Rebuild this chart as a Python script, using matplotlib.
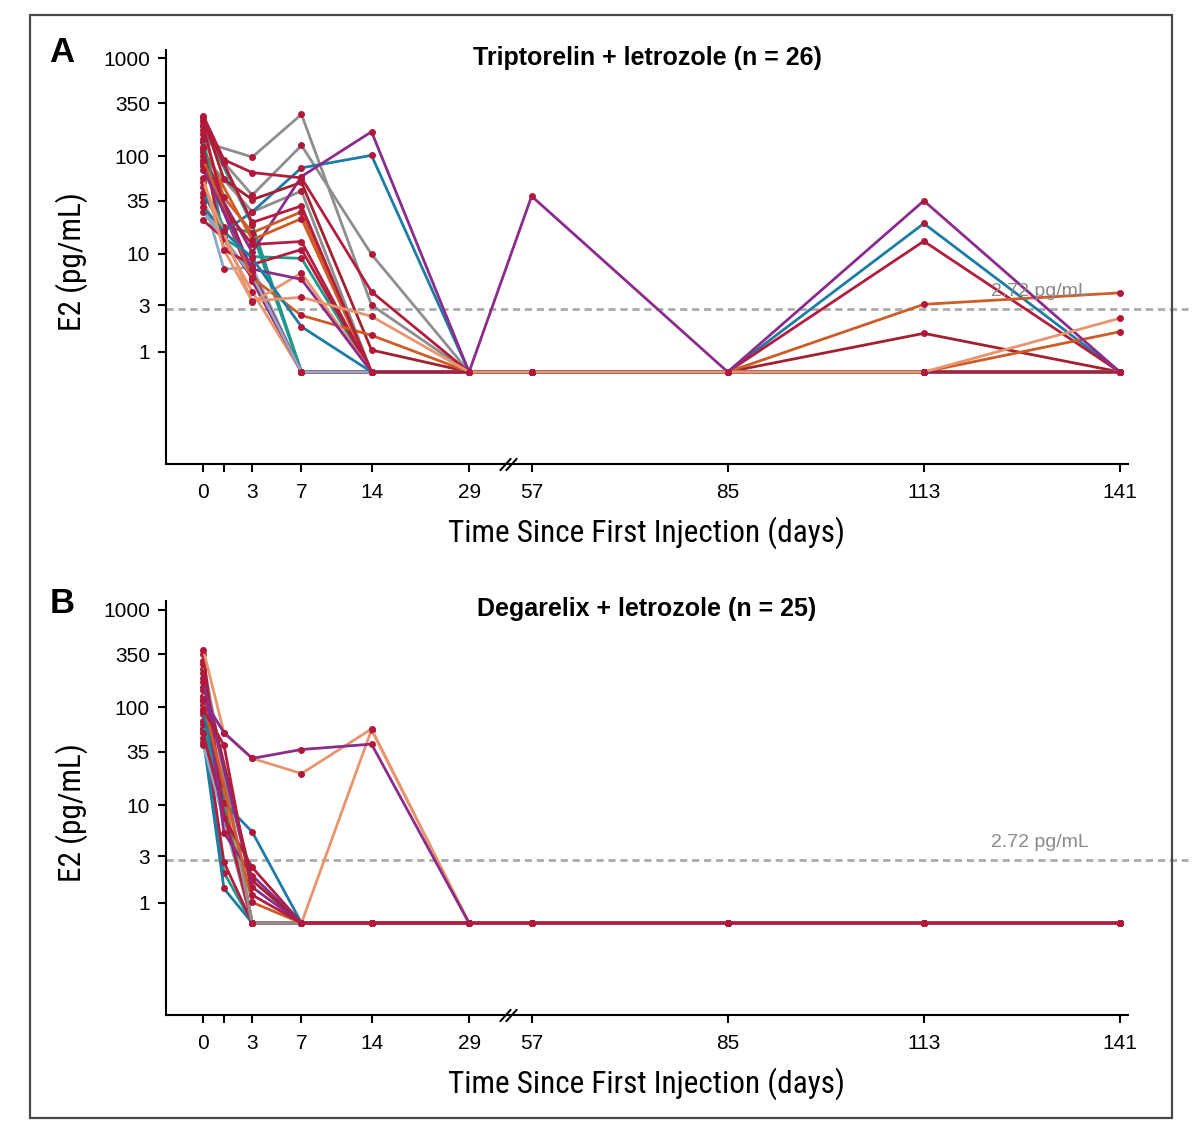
import numpy as np
import matplotlib
matplotlib.use('Agg')
import matplotlib.pyplot as plt
from matplotlib import font_manager
from matplotlib.patches import Rectangle
from matplotlib.ticker import NullLocator, FixedLocator, FixedFormatter

nan = np.nan
blq = 0.62  # samples below the limit are drawn at this level

days = [0, 1, 3, 7, 14, 29, 57, 85, 113, 141]
day_labels = ['0', '', '3', '7', '14', '29', '57', '85', '113', '141']
e2_ticks = [1, 3, 10, 35, 100, 350, 1000]
e2_labels = ['1', '3', '10', '35', '100', '350', '1000']
lloq = 2.72

F = blq
# Triptorelin + letrozole, one row per patient: d0 d1 d3 d7 d14 d29 d57 d85 d113 d141
trip_e2 = [
    [38, 7, 7.3, F, F, F, F, F, F, F],
    [85, nan, 5.3, F, F, F, F, F, F, F],
    [205, nan, 20, F, F, F, F, F, F, F],
    [48, 19, 16.5, F, F, F, F, F, F, F],
    [34, nan, 4.1, F, F, F, F, F, F, F],
    [22, 14.5, 5.7, F, F, F, F, F, F, F],
    [110, nan, 6.5, F, F, F, F, F, F, F],
    [27, nan, 6.0, F, F, F, F, F, F, F],
    [185, 86, 40, 129, 9.9, F, F, F, F, F],
    [140, nan, 98, 268, 3.0, F, F, F, F, F],
    [100, nan, 27, 44, F, F, F, F, F, F],
    [42, 17, 27, 76, 102, F, F, F, 20.5, F],
    [80, nan, 10.4, 62, 178, F, 39, F, F, F],
    [260, 92, 68, 60, 4.1, F, F, F, 13.5, F],
    [245, 58, 36, 54, 1.04, F, F, F, 1.54, F],
    [170, 38, 16.5, 27, F, F, F, F, 3.05, 4.0],
    [118, nan, 14, 23, F, F, F, F, F, 1.6],
    [210, 29, 12.5, 13.4, F, F, F, F, F, F],
    [150, 14.5, 9.4, 9.0, F, F, F, F, F, F],
    [125, 11, 7.8, 11.1, F, F, F, F, F, F],
    [92, nan, 5.7, 2.35, 1.47, F, F, F, F, F],
    [54, nan, 3.2, 6.4, F, F, F, F, F, F],
    [72, nan, 7.0, 5.5, F, F, F, F, 35, F],
    [30, 17, 9.0, 1.8, F, F, F, F, F, F],
    [228, nan, 21, 31, F, F, F, F, F, F],
    [60, 11, 3.3, 3.6, 2.3, F, F, F, F, 2.2],
]
trip_colors = ['ltblue', 'purple', 'teal', 'teal', 'salmon', 'crimson', 'crimson', 'ltblue',
               'gray', 'gray', 'gray', 'blue', 'purple', 'crimson', 'darkred', 'orange',
               'orange', 'crimson', 'teal', 'crimson', 'orange', 'salmon', 'purple', 'blue',
               'crimson', 'salmon']

# Degarelix + letrozole
dega_e2 = [
    [44, nan, F, F, F, F, F, F, F, F],
    [300, nan, F, F, F, F, F, F, F, F],
    [132, nan, F, F, F, F, F, F, F, F],
    [85, nan, F, F, F, F, F, F, F, F],
    [160, nan, F, F, F, F, F, F, F, F],
    [105, nan, F, F, F, F, F, F, F, F],
    [62, nan, F, F, F, F, F, F, F, F],
    [58, 2.04, F, F, F, F, F, F, F, F],
    [48, 1.4, F, F, F, F, F, F, F, F],
    [73, 2.6, F, F, F, F, F, F, F, F],
    [41, nan, F, F, F, F, F, F, F, F],
    [249, nan, F, F, F, F, F, F, F, F],
    [68, nan, F, F, F, F, F, F, F, F],
    [54, nan, F, F, F, F, F, F, F, F],
    [151, 16.6, F, F, 59, F, F, F, F, F],
    [280, nan, F, F, F, F, F, F, F, F],
    [92, 10.6, 5.3, F, F, F, F, F, F, F],
    [354, 7.4, 2.3, F, F, F, F, F, F, F],
    [226, 5.2, 1.9, F, F, F, F, F, F, F],
    [201, nan, 1.69, F, F, F, F, F, F, F],
    [180, nan, 1.44, F, F, F, F, F, F, F],
    [117, nan, 1.01, F, F, F, F, F, F, F],
    [389, 55, 30, 21, 60, F, F, F, F, F],
    [122, 55, 30, 37, 42, F, F, F, F, F],
    [95, 41, 1.2, F, F, F, F, F, F, F],
]
dega_colors = ['orange', 'ltblue', 'blue', 'salmon', 'crimson', 'orange', 'purple', 'teal',
               'blue', 'crimson', 'ltblue', 'salmon', 'teal', 'crimson', 'salmon', 'gray',
               'blue', 'crimson', 'purple', 'darkred', 'purple', 'orange', 'salmon', 'purple',
               'crimson']

palette = {'crimson': '#B21D3E', 'darkred': '#A3212F', 'gray': '#8E8E8E', 'blue': '#1D7CA4',
           'purple': '#8B2C8C', 'orange': '#CD5C27', 'salmon': '#E8956E', 'teal': '#1B9A8C',
           'ltblue': '#8AAACB'}
dot_color = '#B0193B'

# piecewise day axis (compressed after the break)
anchor_day = [-10, 0, 1, 3, 7, 14, 29, 57, 141, 200]
anchor_pos = [-3.7, 203.3, 224, 252.3, 301.5, 371.5, 469, 531.5, 1119.5, 1532.5]


def fwd(x):
    return np.interp(x, anchor_day, anchor_pos)


def inv(x):
    return np.interp(x, anchor_pos, anchor_day)


# look for a narrow face for the axis titles
fonts = font_manager.fontManager.ttflist
names = {f.name for f in fonts}
label_font, label_stretch, label_size = 'Liberation Sans', 'normal', 20
for cand in ['Liberation Sans Narrow', 'Roboto Condensed', 'Open Sans Condensed',
             'Noto Sans Condensed', 'DejaVu Sans Condensed']:
    if cand in names:
        label_font, label_size = cand, 22.5
        break
else:
    for f in fonts:
        if f.name in ('DejaVu Sans', 'Noto Sans', 'Open Sans', 'Roboto') and \
                f.stretch in ('condensed', 'semi-condensed') and f.weight in (400, 'normal'):
            label_font, label_stretch, label_size = f.name, f.stretch, 21.5
            break

plt.rcParams['font.family'] = ['Liberation Sans', 'DejaVu Sans']

fig = plt.figure(figsize=(12, 11.45), dpi=100)
ax_a = fig.add_axes([0.1383, 0.5948, 0.8017, 0.3615])
ax_b = fig.add_axes([0.1383, 0.1135, 0.8017, 0.3615])


def draw_panel(ax, values, colors, title, letter):
    d = np.array(days, dtype=float)
    for vals, col in zip(values, colors):
        v = np.array(vals, dtype=float)
        ok = ~np.isnan(v)
        ax.plot(d[ok], v[ok], color=palette[col], lw=2.0, marker='o', ms=4,
                mfc=dot_color, mec=dot_color, zorder=2, solid_joinstyle='miter')

    ax.set_xscale('function', functions=(fwd, inv))
    ax.set_yscale('log')
    ax.set_xlim(-1.8, 142.15)
    ax.set_ylim(0.071, 1220)
    ax.xaxis.set_major_locator(FixedLocator(days))
    ax.xaxis.set_major_formatter(FixedFormatter(day_labels))
    ax.xaxis.set_minor_locator(NullLocator())
    ax.yaxis.set_major_locator(FixedLocator(e2_ticks))
    ax.yaxis.set_major_formatter(FixedFormatter(e2_labels))
    ax.yaxis.set_minor_locator(NullLocator())
    for s in ['top', 'right']:
        ax.spines[s].set_visible(False)
    for s in ['left', 'bottom']:
        ax.spines[s].set_linewidth(1.5)
    ax.tick_params(axis='both', direction='out', length=5.5, width=1.5, labelsize=15)
    ax.tick_params(axis='x', pad=8)
    ax.tick_params(axis='y', pad=6)

    ax.axhline(lloq, xmin=0, xmax=1.062, clip_on=False, color='#ABABAB', lw=2,
               ls=(0, (2.6, 1.7)), zorder=1)
    ax.text(129.6, 4.1, '2.72 pg/mL', ha='center', va='center', fontsize=14, color='#8A8A8A')

    # axis break marks
    brk = ax.get_xaxis_transform()
    for xb in [45.3, 47.9]:
        ax.plot([xb], [0], marker=[(-1, -1.1), (1, 1.1)], ms=9, mew=1.4, color='black',
                transform=brk, clip_on=False, zorder=5)

    ax.text(0.5, 0.981, title, transform=ax.transAxes, ha='center', va='center',
            fontsize=18, fontweight='bold')
    ax.text(-0.108, 0.995, letter, transform=ax.transAxes, ha='center', va='center',
            fontsize=25, fontweight='bold')
    ax.text(0.5, -0.167, 'Time Since First Injection (days)', transform=ax.transAxes,
            ha='center', va='center', fontsize=label_size, family=label_font,
            fontstretch=label_stretch)
    ax.text(-0.098, 0.488, 'E2 (pg/mL)', transform=ax.transAxes, rotation=90,
            ha='center', va='center', fontsize=label_size, family=label_font,
            fontstretch=label_stretch)


draw_panel(ax_a, trip_e2, trip_colors, 'Triptorelin + letrozole (n = 26)', 'A')
draw_panel(ax_b, dega_e2, dega_colors, 'Degarelix + letrozole (n = 25)', 'B')

fig.add_artist(Rectangle((30 / 1200, 1 - 1118 / 1145), 1142 / 1200, 1103 / 1145,
                         transform=fig.transFigure, fill=False, lw=1.6, ec='#4A4A4A'))

fig.savefig('out.png', dpi=100)
